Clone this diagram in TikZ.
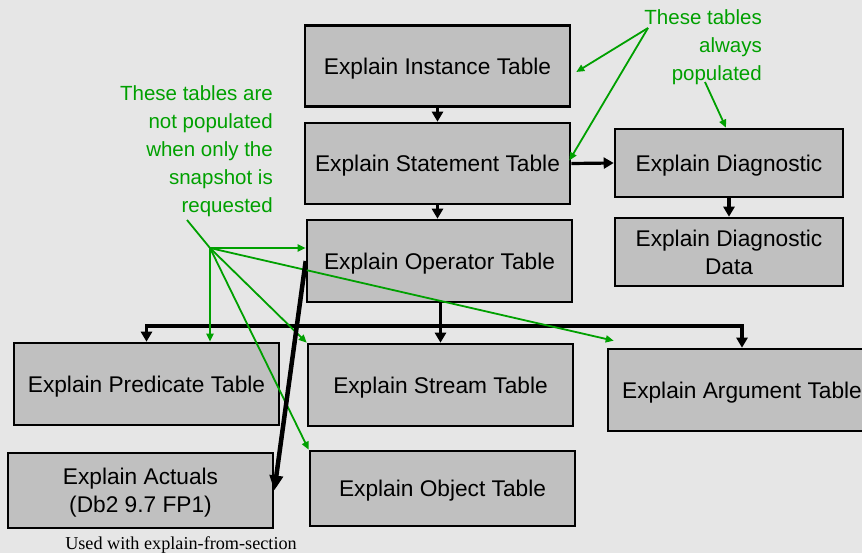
\documentclass[tikz,border=0pt]{standalone}
\usepackage{fontspec}
\setmainfont{Liberation Sans}
\newfontfamily\serifft{Liberation Serif}
\usetikzlibrary{arrows.meta,calc}
\definecolor{bg}{RGB}{230,230,230}
\definecolor{boxgrey}{RGB}{192,192,192}
\definecolor{grn}{RGB}{0,160,0}
\begin{document}
\begin{tikzpicture}[x=1pt,y=-1pt,
  tbl/.style={draw=black, line width=2.6pt, fill=boxgrey, minimum width=265pt, minimum height=81pt, inner sep=0pt, align=center, text depth=0pt, font=\fontsize{22.7}{28}\selectfont, text=black},
  blk/.style={line width=3.2pt, -{Triangle[length=10pt,width=11pt]}},
  gr/.style={draw=grn, line width=1.8pt, -{Triangle[length=8pt,width=7pt]}},
  note/.style={text=grn, font=\fontsize{20.5}{28}\selectfont, inner sep=0pt, align=right}]
\fill[bg] (0,0) rectangle (862,553);
\useasboundingbox (0,0) rectangle (862,553);
% boxes
\node[tbl] (inst) at (437.5,66) {Explain Instance Table};
\node[tbl] (stmt) at (437.5,163.5) {Explain Statement Table};
\node[tbl, minimum height=82pt] (oper) at (439.5,261) {Explain Operator Table};
\node[tbl, minimum width=228pt, minimum height=68pt] (diag) at (729,163) {Explain Diagnostic};
\node[tbl, minimum width=228pt, minimum height=68pt] (ddata) at (729,252) {Explain Diagnostic\\Data};
\node[tbl, minimum height=82pt] (pred) at (146.5,384) {Explain Predicate Table};
\node[tbl, minimum height=75pt] (act) at (140.5,490.5) {Explain Actuals\\(Db2 9.7 FP1)};
\node[tbl, minimum height=82pt] (strm) at (440.5,385) {Explain Stream Table};
\node[tbl, minimum height=75pt] (obj) at (442.5,488.5) {Explain Object Table};
\node[tbl, minimum width=268pt, minimum height=82pt] (arg) at (742,390) {Explain Argument Table};
\node[font=\serifft\fontsize{18.2}{20}\selectfont, inner sep=0pt, anchor=base] (foot) at (181,549) {Used with explain-from-section};
% labels
\node[note, anchor=base east] (lblL) at (273,213) {These tables are\\not populated\\when only the\\snapshot is\\requested};
\node[note, anchor=base east] (lblR) at (762,81) {These tables\\always\hspace*{7pt}\\populated};
% black connectors
\draw[blk] (inst.south) -- (stmt.north);
\draw[blk] (stmt.south) -- (stmt.south |- oper.north);
\draw[blk] (stmt.east) -- (diag.west);
\draw[blk] (diag.south) -- (ddata.north);
\coordinate (bus) at (441,326);
\draw[blk] (strm.north |- oper.south) -- (strm.north);
\draw[blk] (bus) -| (pred.north);
\draw[blk] (bus) -| (arg.north);
% green pointers
\coordinate (gA) at (648,28);
\coordinate (gB) at (705,82);
\coordinate (gC) at (210,248);
\coordinate (gD) at (187,220);
\draw[gr] (gA) -- ($(inst.east)+(5,6)$);
\draw[gr] (gA) -- ($(stmt.east)+(-2,-3)$);
\draw[gr] (gB) -- ($(diag.north)+(-3,0)$);
\draw[draw=grn, line width=1.8pt] (gD) -- (gC);
\draw[gr] (gC) -- (gC -| oper.west);
\draw[gr] (gC) -- (gC |- pred.north);
\draw[gr] (gC) -- (strm.north west);
\draw[gr] (gC) -- (obj.north west);
\draw[gr] (gC) -- ($(arg.north west)+(7,-7)$);
% thick arrow to actuals
\draw[line width=4.5pt, -{Triangle[length=15pt,width=13pt]}] (oper.west) -- (act.east);
\end{tikzpicture}
\end{document}
